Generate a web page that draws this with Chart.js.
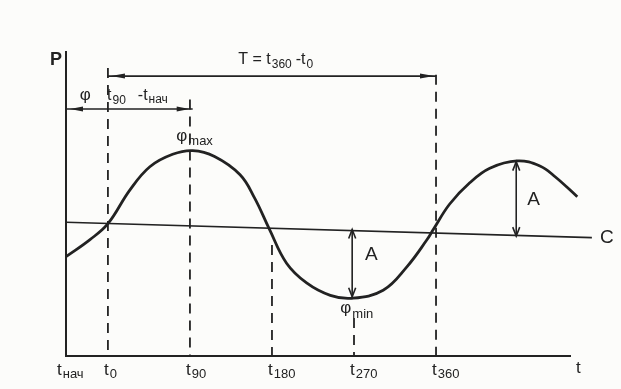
<!DOCTYPE html>
<html>
<head>
<meta charset="utf-8">
<script src="https://cdn.jsdelivr.net/npm/chart.js@4/dist/chart.umd.min.js"></script>
<style>
  html, body { margin: 0; padding: 0; background: #fcfcfa; }
  #wrap { width: 621px; height: 389px; }
</style>
</head>
<body>
<div id="wrap"><canvas id="phaseChart" width="621" height="389"></canvas></div>
<script>
// curve: phase in degrees, P relative to level C (amplitude ~ 1)
const phaseDeg = [-46, -20, 0, 24, 46, 71, 93, 117, 145, 161, 177, 196, 218, 244, 268, 302, 328, 350, 357, 375, 397, 419, 449, 474, 491, 515];
const pValues  = [-0.42, -0.19, 0.03, 0.49, 0.81, 0.98, 1.03, 0.95, 0.70, 0.38, -0.04, -0.51, -0.78, -0.95, -0.99, -0.88, -0.56, -0.19, -0.05, 0.30, 0.59, 0.79, 0.89, 0.82, 0.67, 0.40];

// level C (a little tilted in the scan)
const levelDeg = [-46, 531];
const levelP = [0.05, -0.16];

// dashed markers t0..t360 and the P value where each one starts
const markDeg = [0, 90, 180, 270, 360];
const markTop = [2.16, 1.73, -0.26, -1.26, 2.07];

// labels under the time axis
const tickDeg = [-46, 0, 90, 180, 270, 360];
const tickSub = ['нач', '0', '90', '180', '270', '360'];

// amplitude arrows A
const ampDeg = [268, 448];
const ampFrom = [-0.05, -0.14];
const ampTo = [-0.97, 0.88];

// span arrows: T = t360 - t0 and phi = t90 - tнач
const spanFrom = [0, -46];
const spanTo = [360, 93];
const spanP = [2.05, 1.60];

const X_MIN = -46, X_MAX = 507, Y_MIN = -1.78, Y_MAX = 2.38;
const INK = '#222';
const FONT = '"Liberation Sans", Arial, sans-serif';

const seg = (x0, y0, x1, y1) => [{ x: x0, y: y0 }, { x: x1, y: y1 }];

const datasets = [];
datasets.push({
  data: phaseDeg.map((d, i) => ({ x: d, y: pValues[i] })),
  borderColor: INK, borderWidth: 2.8, pointRadius: 0,
  tension: 0.4, clip: false
});
datasets.push({
  data: seg(levelDeg[0], levelP[0], levelDeg[1], levelP[1]),
  borderColor: INK, borderWidth: 1.6, pointRadius: 0, clip: false
});
markDeg.forEach((d, i) => {
  datasets.push({
    data: seg(d, markTop[i], d, Y_MIN),
    borderColor: INK, borderWidth: 1.8, borderDash: [10, 7], pointRadius: 0, clip: false
  });
});
ampDeg.forEach((d, i) => {
  datasets.push({
    data: seg(d, ampFrom[i], d, ampTo[i]),
    borderColor: INK, borderWidth: 1.6, pointRadius: 0, clip: false
  });
});
spanFrom.forEach((d, i) => {
  datasets.push({
    data: seg(d, spanP[i], spanTo[i], spanP[i]),
    borderColor: INK, borderWidth: 1.6, pointRadius: 0, clip: false
  });
});

function head(ctx, x, y, ang, len, half, filled) {
  ctx.save();
  ctx.translate(x, y);
  ctx.rotate(ang);
  ctx.beginPath();
  ctx.moveTo(-len, -half);
  ctx.lineTo(0, 0);
  ctx.lineTo(-len, half);
  if (filled) { ctx.closePath(); ctx.fill(); } else { ctx.lineWidth = 1.6; ctx.stroke(); }
  ctx.restore();
}

function subText(ctx, x, y, main, sub, size, drop) {
  ctx.font = size + 'px ' + FONT;
  ctx.fillText(main, x, y);
  const w = ctx.measureText(main).width;
  ctx.font = Math.round(size * 0.74) + 'px ' + FONT;
  ctx.fillText(sub, x + w + 1, y + drop);
  return x + w + 1 + ctx.measureText(sub).width;
}

const annotate = {
  id: 'annotate',
  afterDatasetsDraw(chart) {
    const { ctx, scales: { x, y } } = chart;
    const px = v => x.getPixelForValue(v);
    const py = v => y.getPixelForValue(v);
    ctx.save();
    ctx.fillStyle = INK;
    ctx.strokeStyle = INK;
    ctx.textBaseline = 'alphabetic';

    // span arrowheads
    head(ctx, px(spanFrom[0]) + 3, py(spanP[0]), Math.PI, 14, 2.5, true);
    head(ctx, px(spanTo[0]) - 2, py(spanP[0]), 0, 14, 2.5, true);
    head(ctx, px(spanFrom[1]) + 4, py(spanP[1]), Math.PI, 13, 2.5, true);
    head(ctx, px(spanTo[1]) - 3, py(spanP[1]), 0, 13, 2.5, true);

    // amplitude arrowheads
    ampDeg.forEach((d, i) => {
      const a = py(ampFrom[i]), b = py(ampTo[i]);
      const dn = b > a ? Math.PI / 2 : -Math.PI / 2;
      head(ctx, px(d), b, dn, 9, 3.5, false);
      head(ctx, px(d), a, dn + Math.PI, 9, 3.5, false);
    });

    // axis names
    ctx.font = 'bold 18px ' + FONT;
    ctx.fillText('P', px(X_MIN) - 16, py(Y_MAX) + 13);
    ctx.font = '17px ' + FONT;
    ctx.fillText('t', px(X_MAX) + 6, py(Y_MIN) + 17);
    ctx.font = '19px ' + FONT;
    ctx.fillText('C', px(X_MAX) + 30, py(-0.23));
    ctx.fillText('A', px(282), py(-0.47));
    ctx.fillText('A', px(460), py(0.29));

    // T = t360 - t0
    let cx = subText(ctx, px(143), py(2.22), 'T = t', '360', 16, 4);
    subText(ctx, cx + 4, py(2.22), '-t', '0', 16, 4);

    // phi  t90 - tнач
    ctx.font = '17px ' + FONT;
    ctx.fillText('φ', px(-31), py(1.73));
    cx = subText(ctx, px(-1), py(1.73), 't', '90', 16, 4);
    subText(ctx, cx + 12, py(1.73), '-t', 'нач', 16, 3);

    subText(ctx, px(75), py(1.16), 'φ', 'max', 17, 4);
    subText(ctx, px(255), py(-1.19), 'φ', 'min', 17, 5);

    // time marks
    tickDeg.forEach((d, i) => {
      const left = i === 0 ? px(d) - 9 : px(d) - 4;
      subText(ctx, left, py(Y_MIN) + 19, 't', tickSub[i], 17, 3);
    });
    ctx.restore();
  }
};

new Chart(document.getElementById('phaseChart'), {
  type: 'line',
  data: { datasets },
  options: {
    responsive: false,
    animation: false,
    layout: { padding: { left: 66, right: 51, top: 52, bottom: 33 } },
    plugins: { legend: { display: false }, tooltip: { enabled: false } },
    scales: {
      x: {
        type: 'linear', min: X_MIN, max: X_MAX,
        grid: { display: false, drawTicks: false },
        border: { display: true, color: INK, width: 2 },
        ticks: { display: false }
      },
      y: {
        type: 'linear', min: Y_MIN, max: Y_MAX,
        grid: { display: false, drawTicks: false },
        border: { display: true, color: INK, width: 2 },
        ticks: { display: false }
      }
    }
  },
  plugins: [annotate]
});
</script>
</body>
</html>
